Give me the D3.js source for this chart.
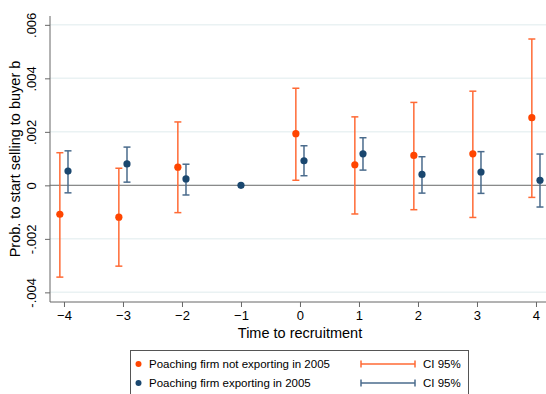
<!DOCTYPE html>
<html>
<head>
<meta charset="utf-8">
<script src="https://cdn.jsdelivr.net/npm/d3@7"></script>
<style>
  body { margin: 0; background: #fff; }
  text { font-family: "Liberation Sans", Arial, Helvetica, sans-serif; fill: #000; }
</style>
</head>
<body>
<div id="chart"></div>
<script>
// data
const periods = [-4, -3, -2, -1, 0, 1, 2, 3, 4];
const notExpCoef = [-0.00108, -0.00119, 0.00068, null, 0.00193, 0.00077, 0.00112, 0.00118, 0.00253];
const notExpLo = [-0.00343, -0.00302, -0.00102, null, 0.00019, -0.00107, -0.00091, -0.0012, -0.00045];
const notExpHi = [0.00122, 0.00064, 0.00237, null, 0.00363, 0.00256, 0.0031, 0.00352, 0.00547];
const expCoef = [0.000535, 0.0008, 0.00024, 0, 0.00092, 0.00118, 0.00041, 0.0005, 0.00019];
const expLo = [-0.00028, 0.00012, -0.00036, null, 0.00036, 0.00057, -0.00029, -0.0003, -0.00081];
const expHi = [0.00129, 0.00143, 0.00079, null, 0.00148, 0.00178, 0.00107, 0.00126, 0.00117];
const yTicks = [-0.004, -0.002, 0, 0.002, 0.004, 0.006];
const yTickLabels = ["-.004", "-.002", "0", ".002", ".004", ".006"];

const W = 546, H = 394;
const plot = { left: 50, right: 546, top: 16, bottom: 302 };

const svg = d3.select("#chart").append("svg")
  .attr("width", W).attr("height", H);

const x = d3.scaleLinear().domain([-4.237, 4.17]).range([plot.left, plot.right]);
const y = d3.scaleLinear().domain([-0.00436, 0.00633]).range([plot.bottom, plot.top]);

const series = [
  { name: "Poaching firm not exporting in 2005", coef: notExpCoef, lo: notExpLo, hi: notExpHi,
    dot: "#ff4500", ci: "#ff6a35", off: -0.07 },
  { name: "Poaching firm exporting in 2005", coef: expCoef, lo: expLo, hi: expHi,
    dot: "#1a476f", ci: "#4a6b8c", off: 0.068 }
];

// gridlines
svg.append("g")
  .selectAll("line")
  .data(yTicks)
  .join("line")
  .attr("x1", plot.left).attr("x2", plot.right)
  .attr("y1", d => y(d)).attr("y2", d => y(d))
  .attr("stroke", "#eaf2f3").attr("stroke-width", 1.5);

// zero line
svg.append("line")
  .attr("x1", plot.left).attr("x2", plot.right)
  .attr("y1", y(0)).attr("y2", y(0))
  .attr("stroke", "#8a8a8a").attr("stroke-width", 1.2);

// y axis
const yAxis = svg.append("g")
  .attr("transform", `translate(${plot.left},0)`)
  .call(d3.axisLeft(y).tickValues(yTicks).tickSize(5).tickFormat((d, i) => yTickLabels[i]));
yAxis.select(".domain").attr("d", `M0,${plot.top}V${plot.bottom}`).attr("stroke", "#666");
yAxis.selectAll(".tick line").attr("stroke", "#666");
yAxis.selectAll(".tick text")
  .attr("transform", "rotate(-90)")
  .attr("x", 0).attr("y", -14)
  .attr("dy", 0)
  .style("text-anchor", "middle")
  .style("font-size", "13px");

// x axis
const xAxis = svg.append("g")
  .attr("transform", `translate(0,${plot.bottom})`)
  .call(d3.axisBottom(x).tickValues(periods).tickSize(5).tickFormat(d3.format("d")));
xAxis.select(".domain").attr("d", `M${plot.left},0H${plot.right}`).attr("stroke", "#666");
xAxis.selectAll(".tick line").attr("stroke", "#666");
xAxis.selectAll(".tick text").attr("y", 9).style("font-size", "13px");

// axis titles
svg.append("text")
  .attr("transform", `translate(20,${(plot.top + plot.bottom) / 2}) rotate(-90)`)
  .attr("text-anchor", "middle")
  .style("font-size", "14.5px")
  .text("Prob. to start selling to buyer b");

svg.append("text")
  .attr("x", 300).attr("y", 338)
  .attr("text-anchor", "middle")
  .style("font-size", "14.5px")
  .text("Time to recruitment");

// error bars and points
series.forEach(s => {
  const rows = periods.map((p, i) => ({ p, c: s.coef[i], lo: s.lo[i], hi: s.hi[i] }));
  const g = svg.append("g");
  const ci = rows.filter(d => d.lo !== null);
  g.selectAll("line.v").data(ci).join("line")
    .attr("x1", d => x(d.p + s.off)).attr("x2", d => x(d.p + s.off))
    .attr("y1", d => y(d.lo)).attr("y2", d => y(d.hi))
    .attr("stroke", s.ci).attr("stroke-width", 1.5);
  ["lo", "hi"].forEach(k => {
    g.selectAll("line." + k).data(ci).join("line")
      .attr("x1", d => x(d.p + s.off) - 3.5).attr("x2", d => x(d.p + s.off) + 3.5)
      .attr("y1", d => y(d[k])).attr("y2", d => y(d[k]))
      .attr("stroke", s.ci).attr("stroke-width", 1.5);
  });
  g.selectAll("circle").data(rows.filter(d => d.c !== null)).join("circle")
    .attr("cx", d => x(d.p === -1 ? d.p : d.p + s.off)).attr("cy", d => y(d.c))
    .attr("r", 3.6)
    .attr("fill", s.dot);
});

// legend
const leg = svg.append("g");
leg.append("rect")
  .attr("x", 130.5).attr("y", 350.5).attr("width", 338).attr("height", 50)
  .attr("fill", "#fff").attr("stroke", "#555").attr("stroke-width", 1);
series.forEach((s, i) => {
  const ly = 364 + i * 19;
  leg.append("circle").attr("cx", 138.5).attr("cy", ly).attr("r", 3).attr("fill", s.dot);
  leg.append("text").attr("x", 149).attr("y", ly + 4).style("font-size", "11.5px").text(s.name);
  leg.append("line").attr("x1", 361).attr("x2", 415).attr("y1", ly).attr("y2", ly)
    .attr("stroke", s.ci).attr("stroke-width", 1.5);
  [361, 415].forEach(xx => leg.append("line")
    .attr("x1", xx).attr("x2", xx).attr("y1", ly - 3.5).attr("y2", ly + 3.5)
    .attr("stroke", s.ci).attr("stroke-width", 1.5));
  leg.append("text").attr("x", 423).attr("y", ly + 4).style("font-size", "11.5px").text("CI 95%");
});
</script>
</body>
</html>
